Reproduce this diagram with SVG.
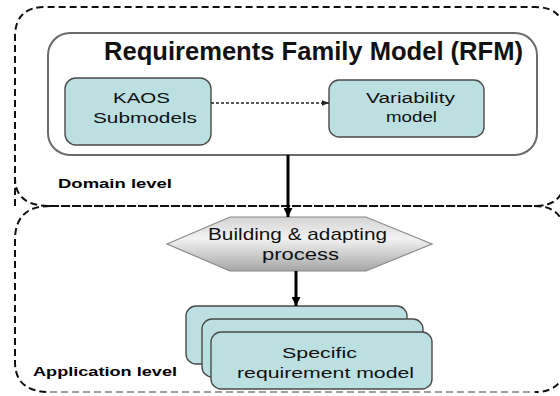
<svg xmlns="http://www.w3.org/2000/svg" width="560" height="396" viewBox="0 0 560 396">
<defs>
<style>
.lvl{fill:none;stroke:#111;stroke-width:2;stroke-dasharray:7 4}
.rfm{fill:none;stroke:#6a6a6a;stroke-width:2}
.box{fill:#bce0e2;stroke:#4a4a4a;stroke-width:1.4}
.t{font-family:"Liberation Sans",Arial,sans-serif;font-size:15.5px;fill:#111}
.th{font-family:"Liberation Sans",Arial,sans-serif;font-size:17px;fill:#111}
.tb{font-family:"Liberation Sans",Arial,sans-serif;font-size:13.5px;font-weight:bold;fill:#000}
.title{font-family:"Liberation Sans",Arial,sans-serif;font-size:25px;font-weight:bold;fill:#111}
.solid{stroke:#000;stroke-width:3;fill:none}
.dash{stroke:#222;stroke-width:1.5;stroke-dasharray:3 2;fill:none}
</style>
<linearGradient id="hexg" x1="0" y1="0" x2="0" y2="1">
<stop offset="0" stop-color="#d4d4d4"/>
<stop offset="0.4" stop-color="#f2f2f2"/>
<stop offset="1" stop-color="#a6a6a6"/>
</linearGradient>
<marker id="ah" viewBox="0 0 10 10" refX="10" refY="5" markerWidth="3" markerHeight="3" orient="auto" markerUnits="strokeWidth">
<path d="M0,0 L10,5 L0,10 z" fill="#000"/>
</marker>
<marker id="ahs" viewBox="0 0 10 10" refX="10" refY="5" markerWidth="5" markerHeight="5" orient="auto" markerUnits="strokeWidth">
<path d="M0,1 L10,5 L0,9 z" fill="#222"/>
</marker>
</defs>
<rect width="560" height="396" fill="#fff"/>

<g id="domain-level">
<path class="lvl" d="M15,206 L15,37 Q15,7 45,7 L535,7 Q565,7 565,37 L565,176 Q565,206 535,206 L50,206 Q15,206 15,178"/>
<text class="tb" x="58" y="188" textLength="114" lengthAdjust="spacingAndGlyphs">Domain level</text>
</g>

<g id="application-level">
<path class="lvl" d="M50,206 L535,206 Q565,206 565,238 L565,362 Q565,392 535,392"/>
<path class="lvl" d="M50,206 Q15,206 15,240 L15,362 Q15,392 50,392"/>
<path class="lvl" style="stroke:#808080;stroke-width:1.6" d="M50,392 L535,392"/>
<text class="tb" x="33" y="376" textLength="144" lengthAdjust="spacingAndGlyphs">Application level</text>
</g>

<g id="rfm">
<rect class="rfm" x="48" y="33" width="489" height="122" rx="22" ry="22"/>
<text class="title" x="104" y="60" textLength="419" lengthAdjust="spacingAndGlyphs">Requirements Family Model (RFM)</text>
</g>

<g id="kaos">
<rect class="box" x="65" y="78" width="146" height="67" rx="11"/>
<text class="t" x="113" y="103" textLength="57" lengthAdjust="spacingAndGlyphs">KAOS</text>
<text class="t" x="93" y="123" textLength="104" lengthAdjust="spacingAndGlyphs">Submodels</text>
</g>

<g id="variability">
<rect class="box" x="329" y="80" width="155" height="57" rx="10"/>
<text class="t" x="366" y="103" textLength="89" lengthAdjust="spacingAndGlyphs">Variability</text>
<text class="t" x="386" y="122" textLength="51" lengthAdjust="spacingAndGlyphs">model</text>
</g>

<g id="process">
<polygon points="167,244 230,217 366,217 432,244 366,271 230,271" fill="url(#hexg)" stroke="#8a8a8a" stroke-width="1.2"/>
<text class="th" x="208" y="240" textLength="179" lengthAdjust="spacingAndGlyphs">Building &amp; adapting</text>
<text class="th" x="262" y="260" textLength="77" lengthAdjust="spacingAndGlyphs">process</text>
</g>

<g id="specific">
<rect class="box" x="186" y="306" width="221" height="58" rx="10"/>
<rect class="box" x="202" y="319" width="221" height="58" rx="10"/>
<rect class="box" x="211" y="332" width="221" height="57" rx="10"/>
<text class="t" x="282" y="358" textLength="75" lengthAdjust="spacingAndGlyphs">Specific</text>
<text class="t" x="237" y="378" textLength="177" lengthAdjust="spacingAndGlyphs">requirement model</text>
</g>

<g id="connectors">
<line class="dash" x1="211" y1="103" x2="329" y2="103" marker-end="url(#ahs)"/>
<line class="solid" x1="288" y1="155" x2="288" y2="217" marker-end="url(#ah)"/>
<line class="solid" x1="296" y1="271" x2="296" y2="306" marker-end="url(#ah)"/>
</g>
</svg>
